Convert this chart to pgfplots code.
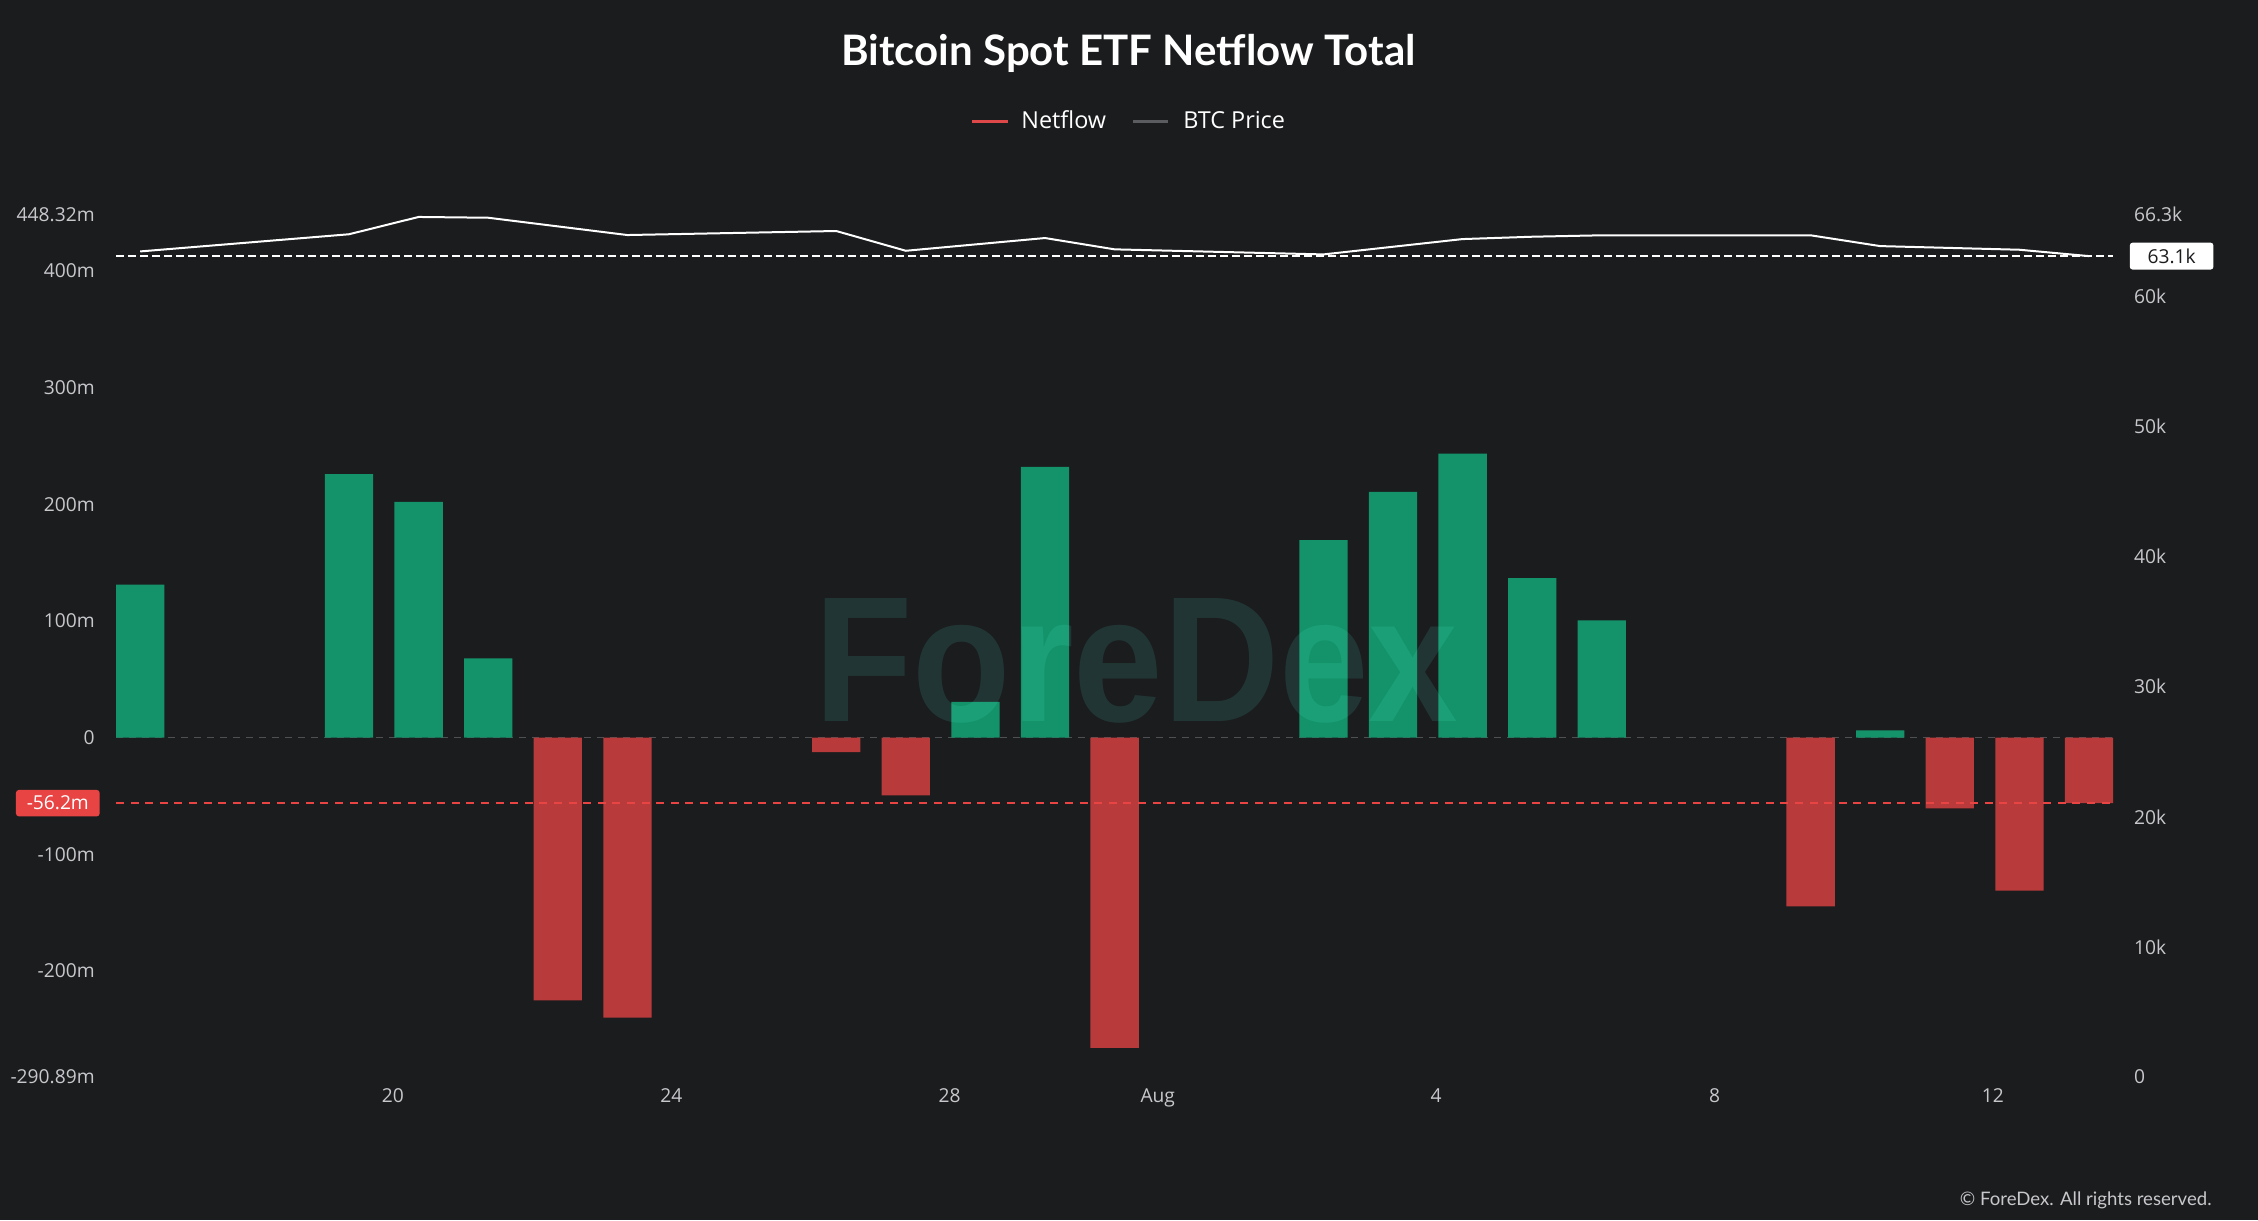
\documentclass[border=0pt]{standalone}
\usepackage{fontspec}
\setmainfont{Open Sans}
\newfontfamily\titlefont{Lato}
\newfontfamily\wmfont{Liberation Sans}
\usepackage{pgfplots}
\pgfplotsset{compat=1.18}
\definecolor{bg}{RGB}{27,28,30}
\definecolor{barg}{RGB}{20,147,106}
\definecolor{barr}{RGB}{184,58,58}
\definecolor{tickc}{RGB}{200,200,204}
\definecolor{zeroc}{RGB}{78,80,84}
\definecolor{labred}{RGB}{232,68,68}
\definecolor{legred}{RGB}{222,72,72}
\definecolor{leggray}{RGB}{90,92,96}
\definecolor{wm}{RGB}{80,250,215}
\begin{document}
\begin{tikzpicture}
\fill[bg] (0,0) rectangle (1129pt,610pt);
% title and legend
\node[anchor=base, text=white, inner sep=0pt, font=\titlefont\bfseries\fontsize{21}{25}\selectfont] at (564.25pt,577.15pt) {Bitcoin Spot ETF Netflow Total};
\draw[legred, line width=1.5pt] (486pt,549pt) -- (504pt,549pt);
\node[anchor=base west, inner sep=0pt, text=white, font=\fontsize{11.7}{14}\selectfont] at (510.5pt,545.85pt) {Netflow};
\draw[leggray, line width=1.5pt] (566.5pt,549pt) -- (584pt,549pt);
\node[anchor=base west, inner sep=0pt, text=white, font=\fontsize{11.7}{14}\selectfont] at (591.5pt,545.85pt) {BTC Price};
% netflow axis
\begin{axis}[
  at={(58pt,71.5pt)}, anchor=south west,
  width=998.6pt, height=431.25pt, scale only axis,
  xmin=-0.348, xmax=28.348, ymin=-290.89, ymax=448.32,
  axis line style={draw=none}, tick style={draw=none}, major tick length=0pt,
  xtick={3.63,7.63,11.63,14.62,18.62,22.62,26.62},
  xticklabels={20,24,28,Aug,4,8,12},
  ytick={-290.89,-200,-100,0,100,200,300,400,448.32},
  yticklabels={-290.89m,-200m,-100m,0,100m,200m,300m,400m,448.32m},
  xticklabel style={font=\fontsize{9.6}{11}\selectfont, text=tickc, anchor=base, inner sep=0pt, yshift=-12.65pt},
  yticklabel style={font=\fontsize{9.6}{11}\selectfont, text=tickc, anchor=east, inner sep=0pt, xshift=-10.5pt},
  clip=false,
]
\addplot[zeroc, line width=0.8pt, dash pattern=on 3.5pt off 3pt] coordinates {(-0.348,0) (28.348,0)};
\addplot[ybar, bar shift=0pt, bar width=0.694, fill=barg, draw=none] coordinates {
(0,131.2) (3,225.9) (4,202.1) (5,67.9) (12,30.6) (13,232.0) (17,169.2) (18,210.5) (19,243.4) (20,136.6) (21,100.5) (25,6.2)};
\addplot[ybar, bar shift=0pt, bar width=0.694, fill=barr, draw=none] coordinates {
(6,-225.2) (7,-240.0) (10,-12.5) (11,-49.5) (14,-266.0) (24,-144.7) (26,-60.6) (27,-131.1) (28,-56.2)};
\addplot[labred, line width=0.8pt, dash pattern=on 4pt off 3.3pt] coordinates {(-0.348,-56.2) (28.348,-56.2)};
\node[fill=labred, rounded corners=1.5pt, text=white, inner sep=0pt, minimum width=41.85pt, minimum height=13.25pt, font=\fontsize{9.6}{11}\selectfont, xshift=-29.1pt] at (axis cs:-0.348,-56.2) {-56.2m};
\end{axis}
% price axis
\begin{axis}[
  at={(58pt,71.5pt)}, anchor=south west,
  width=998.6pt, height=431.25pt, scale only axis,
  xmin=-0.348, xmax=28.348, ymin=0, ymax=66.3,
  axis line style={draw=none}, tick style={draw=none}, major tick length=0pt,
  xtick=\empty,
  axis y line*=right,
  ytick={0,10,20,30,40,50,60,66.3},
  yticklabels={0,10k,20k,30k,40k,50k,60k,66.3k},
  yticklabel style={font=\fontsize{9.6}{11}\selectfont, text=tickc, anchor=west, inner sep=0pt, xshift=10.25pt},
  clip=false,
]
\addplot[white, line width=1pt] coordinates {
(0,63.46) (3,64.78) (4,66.11) (5,66.05) (7,64.72) (10,65.03) (11,63.51) (13,64.49) (14,63.62) (17,63.23) (19,64.41) (20,64.59) (21,64.70) (24,64.70) (25,63.87) (27,63.59) (28,63.1)};
\addplot[white, line width=0.8pt, dash pattern=on 4pt off 2pt] coordinates {(-0.348,63.1) (28.348,63.1)};
\node[fill=white, rounded corners=1.5pt, text=bg, inner sep=0pt, minimum width=41.85pt, minimum height=13.5pt, font=\fontsize{9.6}{11}\selectfont, xshift=29.2pt] at (axis cs:28.348,63.1) {63.1k};
\end{axis}
% watermark
\node[anchor=base, inner sep=0pt, text=wm, text opacity=0.12, font=\wmfont\bfseries\fontsize{89.4}{90}\selectfont, xscale=0.9] at (568.25pt,249pt) {ForeDex};
% copyright
\node[anchor=base east, inner sep=0pt, text=tickc, font=\titlefont\fontsize{9.3}{11}\selectfont] at (1106pt,7pt) {© ForeDex. All rights reserved.};
\end{tikzpicture}
\end{document}
